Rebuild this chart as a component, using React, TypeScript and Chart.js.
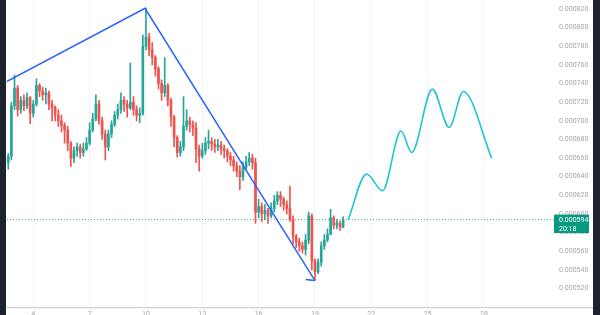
import React, { useEffect, useRef } from "react";
import { Chart, registerables } from "chart.js";

Chart.register(...registerables);

// Prices are written in millionths (594 = 0.000594)
const UNIT = 1e-6;

// Candles: 4h bars, time in days of the month
const FIRST_CANDLE_DAY = 2 + 4 / 6;
const CANDLE_STEP_DAYS = 1 / 6;
const FIRST_OPEN = 655;
const CLOSES = [
  662, 716, 735, 712, 722, 716, 725, 708, 718, 738,
  732, 728, 730, 718, 714, 706, 700, 695, 690, 676,
  660, 668, 672, 666, 670, 676, 690, 702, 718, 700,
  686, 672, 686, 696, 706, 712, 722, 718, 714, 720,
  712, 706, 708, 780, 790, 776, 768, 756, 740, 730,
  738, 722, 704, 682, 666, 672, 694, 700, 696, 692,
  670, 662, 668, 676, 678, 675, 672, 674, 670, 668,
  662, 658, 652, 646, 640, 650, 656, 660, 655, 602,
  608, 600, 604, 598, 606, 614, 620, 616, 610, 606,
  594, 576, 570, 566, 562, 572, 598, 550, 538, 548,
  566, 572, 578, 596, 588, 590, 586, 594,
];
const HIGHS = [
  665, 720, 749, 738, 726, 728, 730, 726, 722, 745,
  740, 736, 735, 732, 722, 716, 712, 706, 698, 694,
  678, 672, 676, 675, 676, 682, 698, 708, 728, 722,
  704, 690, 690, 700, 710, 718, 730, 726, 722, 762,
  726, 716, 714, 792, 821, 794, 784, 770, 758, 744,
  768, 740, 724, 706, 684, 678, 726, 712, 704, 700,
  698, 674, 676, 682, 690, 682, 680, 680, 678, 674,
  670, 666, 662, 656, 652, 656, 662, 666, 664, 660,
  616, 612, 610, 606, 612, 620, 624, 624, 618, 614,
  630, 598, 578, 574, 570, 578, 602, 600, 552, 552,
  570, 578, 584, 605, 598, 594, 592, 597,
];
const LOWS = [
  648, 658, 712, 705, 708, 711, 713, 697, 704, 716,
  726, 722, 718, 712, 700, 700, 694, 688, 676, 668,
  651, 655, 662, 660, 662, 668, 674, 688, 700, 696,
  680, 658, 668, 682, 694, 702, 708, 710, 704, 712,
  706, 700, 698, 706, 776, 770, 760, 748, 734, 722,
  726, 716, 694, 672, 661, 662, 668, 690, 688, 684,
  655, 646, 660, 664, 670, 668, 666, 668, 664, 660,
  656, 652, 646, 640, 626, 636, 648, 652, 648, 590,
  596, 592, 594, 590, 596, 602, 610, 608, 604, 600,
  592, 568, 564, 560, 558, 556, 568, 540, 529, 536,
  544, 562, 570, 578, 584, 584, 582, 585,
];

// Drawn trend line (with arrow tail) and projected path
const TREND_DAYS = [2.55, 9.95, 19.0];
const TREND_PRICES = [741.8, 820.8, 528.6];
const ARROW_DAYS = [18.5, 19.0];
const ARROW_PRICES = [529.8, 528.6];
const PROJ_DAYS = [20.77, 21.75, 22.6, 23.58, 24.15, 25.25, 26.15, 26.9, 28.41];
const PROJ_PRICES = [594, 643, 625, 689, 666, 734, 693, 731.5, 660];

const LAST_PRICE = 594;
const COUNTDOWN = "20:18";

const X_TICKS = [4, 7, 10, 13, 16, 19, 22, 25, 28];
const Y_TICKS = [520, 540, 560, 580, 600, 620, 640, 660, 680, 700, 720, 740, 760, 780, 800, 820];

const X_MIN = 2.6;
const X_MAX = 31.73;
const Y_MIN = 500.2;
const Y_MAX = 829.64;

const UP = "#26a69a";
const DOWN = "#ef5350";
const FONT = "Roboto";

export default function App() {
  const ref = useRef<HTMLCanvasElement | null>(null);

  useEffect(() => {
    const canvas = ref.current;
    if (!canvas) return;

    const opens = [FIRST_OPEN, ...CLOSES.slice(0, -1)];
    const days = CLOSES.map((_, i) => FIRST_CANDLE_DAY + i * CANDLE_STEP_DAYS);
    const colors = CLOSES.map((c, i) => (c >= opens[i] ? UP : DOWN));

    const decor = {
      id: "decor",
      beforeDraw(chart: any) {
        const ctx = chart.ctx;
        ctx.save();
        ctx.fillStyle = "#ffffff";
        ctx.fillRect(0, 0, chart.width, chart.height);
        ctx.restore();
      },
      afterDraw(chart: any) {
        const ctx = chart.ctx;
        ctx.save();
        ctx.fillStyle = "#cfd1d6";
        ctx.fillRect(6, 307, 587, 1.2);
        ctx.fillStyle = "#1e222d";
        ctx.fillRect(0, 0, 6, chart.height);
        ctx.fillRect(593, 0, 7, chart.height);
        const py = chart.scales.y.getPixelForValue(LAST_PRICE * UNIT);
        ctx.fillStyle = "#089981";
        ctx.fillRect(554, py - 5, 35, 18.5);
        ctx.fillStyle = "#ffffff";
        ctx.font = `7px ${FONT}`;
        ctx.textAlign = "left";
        ctx.textBaseline = "middle";
        ctx.fillText((LAST_PRICE * UNIT).toFixed(6), 559, py + 0.8);
        ctx.fillText(COUNTDOWN, 559, py + 9.4);
        ctx.restore();
      },
    };

    const noPad = (s: any) => {
      s.paddingTop = 0;
      s.paddingBottom = 0;
      s.paddingLeft = 0;
      s.paddingRight = 0;
    };

    const chart = new Chart(canvas, {
      type: "bar",
      data: {
        datasets: [
          {
            type: "line",
            data: [
              { x: X_MIN, y: LAST_PRICE * UNIT },
              { x: X_MAX, y: LAST_PRICE * UNIT },
            ],
            borderColor: "#3fb8a5",
            borderWidth: 1,
            borderDash: [1, 2],
            pointRadius: 0,
            order: 10,
          },
          {
            type: "bar",
            data: days.map((d, i) => ({ x: d, y: [LOWS[i] * UNIT, HIGHS[i] * UNIT] })),
            backgroundColor: colors,
            barThickness: 1,
            grouped: false,
            borderWidth: 0,
            order: 6,
          },
          {
            type: "bar",
            data: days.map((d, i) => ({ x: d, y: [opens[i] * UNIT, CLOSES[i] * UNIT] })),
            backgroundColor: colors,
            barThickness: 2,
            grouped: false,
            borderWidth: 0,
            order: 5,
          },
          {
            type: "line",
            data: TREND_DAYS.map((d, i) => ({ x: d, y: TREND_PRICES[i] * UNIT })),
            borderColor: "#2962ff",
            borderWidth: 1.5,
            pointRadius: 0,
            tension: 0,
            order: 2,
          },
          {
            type: "line",
            data: ARROW_DAYS.map((d, i) => ({ x: d, y: ARROW_PRICES[i] * UNIT })),
            borderColor: "#2962ff",
            borderWidth: 1.5,
            pointRadius: 0,
            order: 2,
          },
          {
            type: "line",
            data: PROJ_DAYS.map((d, i) => ({ x: d, y: PROJ_PRICES[i] * UNIT })),
            borderColor: "#1fc3d9",
            borderWidth: 1.6,
            pointRadius: 0,
            cubicInterpolationMode: "monotone",
            order: 1,
          },
        ],
      },
      options: {
        animation: false,
        responsive: false,
        devicePixelRatio: 1,
        layout: { padding: { left: 7, top: 0, right: 0, bottom: 0 } },
        plugins: {
          legend: { display: false },
          tooltip: { enabled: false },
        },
        scales: {
          x: {
            type: "linear",
            min: X_MIN,
            max: X_MAX,
            offset: false,
            afterBuildTicks: (s: any) => {
              s.ticks = X_TICKS.map((v) => ({ value: v }));
            },
            afterFit: (s: any) => {
              s.height = 8;
              noPad(s);
            },
            grid: { color: "#f3f4f6", drawTicks: false, offset: false },
            border: { display: false },
            ticks: {
              color: "#a3a6af",
              font: { size: 7, family: FONT },
              padding: 3,
              maxRotation: 0,
              autoSkip: false,
              callback: (v: any) => String(v),
            },
          },
          y: {
            type: "linear",
            position: "right",
            min: Y_MIN * UNIT,
            max: Y_MAX * UNIT,
            beginAtZero: false,
            afterBuildTicks: (s: any) => {
              s.ticks = Y_TICKS.map((v) => ({ value: v * UNIT }));
            },
            afterFit: (s: any) => {
              s.width = 46;
              noPad(s);
            },
            grid: { display: false, drawTicks: false },
            border: { display: false },
            ticks: {
              color: "#a3a6af",
              font: { size: 7, family: FONT },
              padding: 5,
              callback: (v: any) => Number(v).toFixed(6),
            },
          },
        },
      },
      plugins: [decor],
    } as any);

    return () => chart.destroy();
  }, []);

  return (
    <div style={{ position: "fixed", left: 0, top: 0, width: 600, height: 315, background: "#fff" }}>
      <canvas ref={ref} width={600} height={315} style={{ display: "block", width: 600, height: 315 }} />
    </div>
  );
}
